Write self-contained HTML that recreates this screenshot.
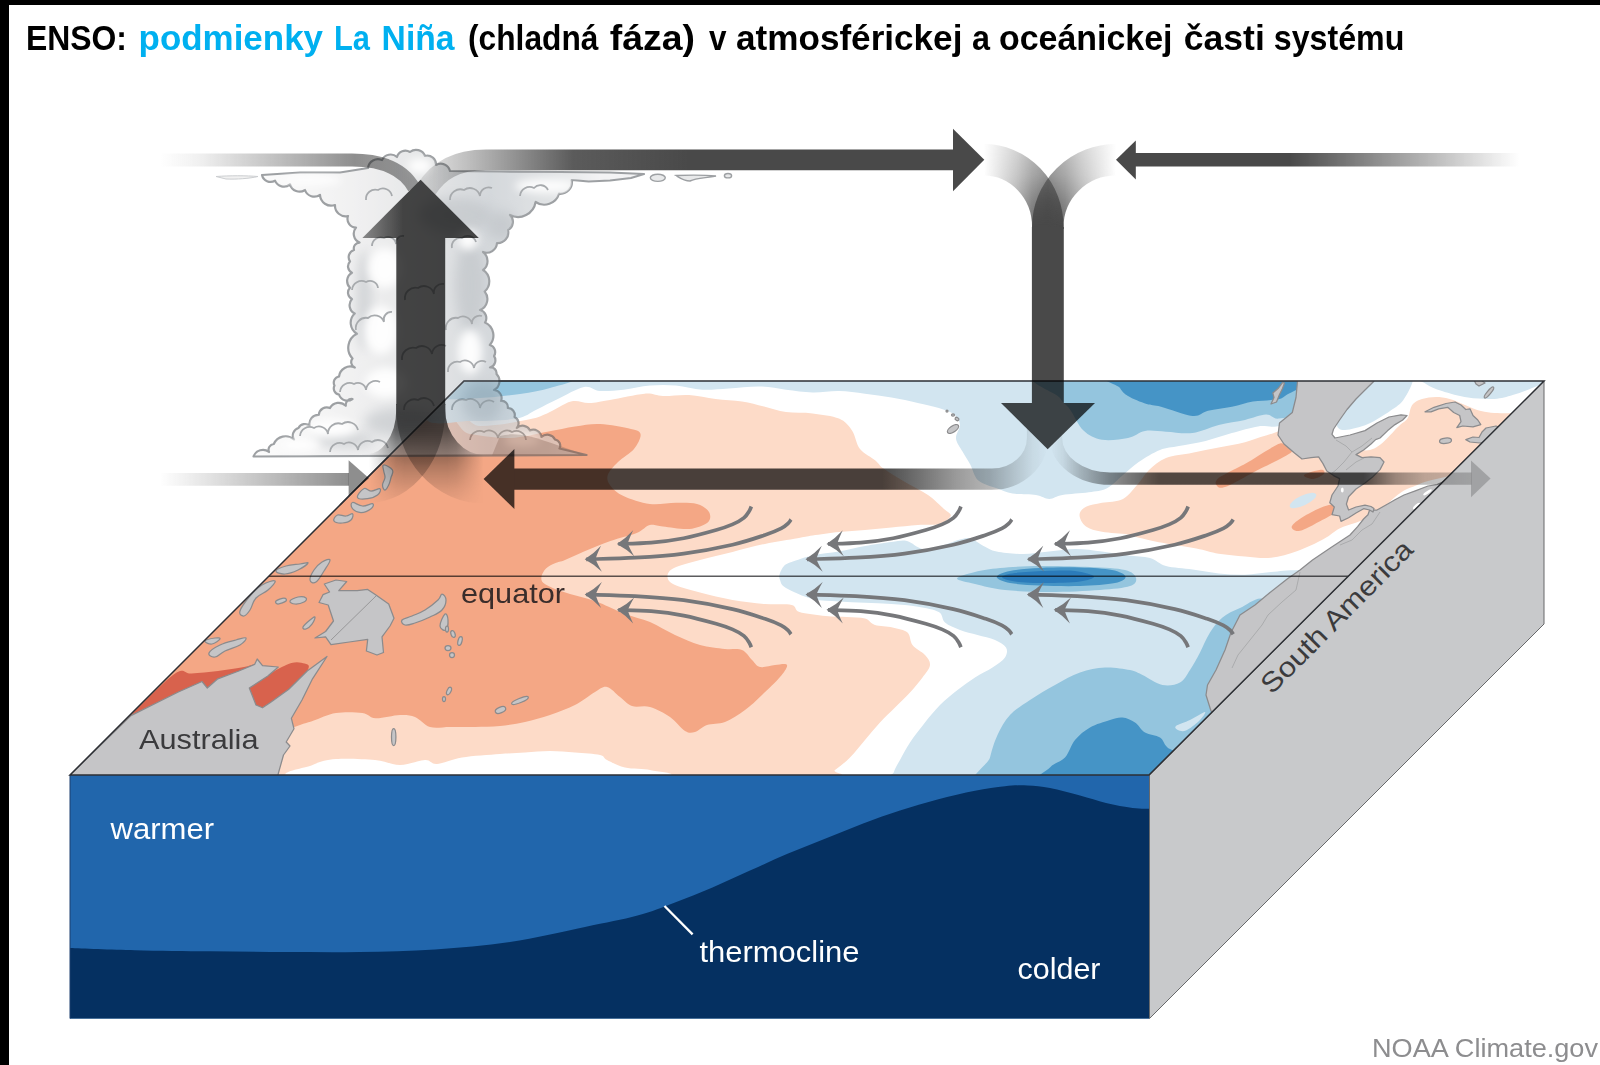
<!DOCTYPE html>
<html lang="sk"><head><meta charset="utf-8"><title>ENSO: podmienky La Niña</title>
<style>
html,body{margin:0;padding:0;background:#fff;}
body{width:1600px;height:1065px;position:relative;overflow:hidden;font-family:"Liberation Sans",sans-serif;}
.bl{position:absolute;left:0;top:0;width:9px;height:1065px;background:#000;}
.bt{position:absolute;left:0;top:0;width:1600px;height:5px;background:#000;}
</style></head><body>
<svg width="1600" height="1065" viewBox="0 0 1600 1065" style="position:absolute;left:0;top:0">
<defs>
<clipPath id="topclip"><path d="M70 775L1149 775L1544 381L464 381Z"/></clipPath>
<filter id="blur6" x="-50%" y="-50%" width="200%" height="200%"><feGaussianBlur stdDeviation="6"/></filter>
<filter id="blur4" x="-50%" y="-50%" width="200%" height="200%"><feGaussianBlur stdDeviation="4"/></filter>
</defs>
<path d="M70 775L1149.5 775L1149.5 1018.5L70 1018.5Z" fill="#2166ac" />
<path d="M70 948C80.8 948.4 111.7 949.7 135 950.2C158.3 950.8 185 951 210 951.3C235 951.6 260 951.9 285 952C310 952.1 335 952.4 360 952C385 951.6 410 951.1 435 949.4C460 947.7 485 945.7 510 942C535 938.3 563.8 931.4 585 927C606.2 922.6 622.5 919.7 637.5 915.6C652.5 911.5 662.5 907.2 675 902.5C687.5 897.8 700 892.8 712.5 887.5C725 882.2 737.5 876.2 750 870.6C762.5 865 775 859 787.5 853.7C800 848.4 812.5 843.7 825 838.7C837.5 833.7 850 828.4 862.5 823.7C875 819 887.5 814.7 900 810.6C912.5 806.5 925 802.7 937.5 799.4C950 796.1 963.8 792.9 975 790.7C986.2 788.5 996.2 787.1 1005 786.2C1013.8 785.3 1020 785.2 1027.5 785.5C1035 785.8 1041.2 786.3 1050 788C1058.8 789.7 1070.7 793.1 1080 795.6C1089.3 798.1 1097.2 800.9 1106 803C1114.8 805.1 1125.2 807 1132.5 808C1139.8 809 1146.7 808.6 1149.5 808.7L1149.5 1018.5 L70 1018.5 Z" fill="#053061" />
<path d="M1149.5 775L1544 381L1544 624L1149.5 1018.5Z" fill="#c8c9cb" stroke="#68696b" stroke-width="1"/>
<g clip-path="url(#topclip)">
<path d="M70 775L1149 775L1544 381L464 381Z" fill="#ffffff" />
<path d="M70 775C61.7 742.7 190.7 655.2 250 596C309.3 536.8 387.7 448.3 426 420C464.3 391.7 463.3 426 480 426C496.7 426 514.8 422.1 526 420C537.2 417.9 539.5 416.5 547 413.4C554.5 410.3 564 403.2 571 401.5C578 399.8 582.5 403.2 589 403C595.5 402.8 600.7 401.6 610 400C619.3 398.4 635.8 394.4 644.6 393.7C653.4 393 655.6 395.8 663 396C670.4 396.2 680.2 394.5 689 395C697.8 395.5 706.8 397.9 715.6 399C724.4 400.1 733.9 400.2 742 401.5C750.1 402.8 756.7 404.8 764 406.5C771.3 408.2 777.9 410.9 786 412C794.1 413.1 803.8 412.3 812.6 413.4C821.4 414.5 832.4 415.8 839 418.6C845.6 421.5 848.5 425.4 852 430.5C855.5 435.6 856 444 860 449C864 454 871.8 457.4 875.7 460.7C879.6 464 878.7 465.1 883.6 468.6C888.5 472.2 897.6 477.6 905 482C912.4 486.4 921.5 490.5 928 495C934.5 499.5 940.2 505.5 944 509C947.8 512.5 951.6 513.5 950.7 516C949.8 518.5 944.3 522.5 938.8 524C933.3 525.5 925.7 524.4 917.8 525C909.9 525.6 900.3 526.7 891.5 527.5C882.7 528.3 873.8 529.2 865 530C856.2 530.8 847.7 531.1 839 532C830.3 532.9 819.5 534.5 812.6 535.5C805.7 536.5 805.4 536.8 797.5 538.2C789.6 539.6 775.8 541.6 765 543.9C754.2 546.2 743.3 549.3 732.5 552C721.7 554.7 709.8 557.3 700 560C690.2 562.7 679.4 565.3 674 568C668.6 570.7 667.5 573.6 667.5 576.4C667.5 579.1 668.6 581.8 674 584.5C679.4 587.2 690.2 590 700 592.6C709.8 595.2 721.7 598.1 732.5 600C743.3 601.9 755.1 603.2 765 604C774.9 604.8 785.9 603.7 791.6 605C797.3 606.3 793.7 610.2 799.4 612C805.1 613.8 817.8 615.2 825.7 616C833.6 616.8 840.2 616.6 846.8 617C853.3 617.4 860.3 617.2 865 618.5C869.7 619.8 870.4 623.5 875 625C879.6 626.5 887.1 626.2 892.5 627.5C897.9 628.8 904.2 629.6 907.5 632.5C910.8 635.4 909.6 641.2 912.5 645C915.4 648.8 922.1 651.7 925 655C927.9 658.3 930.4 661.2 930 665C929.6 668.8 925.8 672.9 922.5 677.5C919.2 682.1 914.6 687.5 910 692.5C905.4 697.5 900 702.5 895 707.5C890 712.5 885 717.1 880 722.5C875 727.9 870 734.2 865 740C860 745.8 855 752.5 850 757.5C845 762.5 839.7 766.6 835 770C830.3 773.4 861.2 774.7 822 778C782.8 781.3 687 788 600 790C513 792 388.3 792.5 300 790C211.7 787.5 78.3 807.3 70 775Z" fill="#fddbc8" />
<path d="M1079.5 515C1079.5 511.7 1082.2 508.7 1086 506.7C1089.8 504.7 1095.8 504.1 1102 502.8C1108.2 501.5 1116.9 502.2 1123 498.9C1129.1 495.6 1134.4 487.8 1138.7 483C1143 478.2 1144.5 474.2 1149 470C1153.5 465.8 1158.8 460.9 1166 458C1173.2 455.1 1183.7 454.5 1192.5 452.7C1201.3 450.9 1210 449.1 1218.7 447.4C1227.5 445.6 1237.1 444.2 1245 442.2C1252.9 440.2 1258.5 437.6 1266 435.6C1273.5 433.6 1279.3 429.3 1290 430C1300.7 430.7 1316.7 436.7 1330 440C1343.3 443.3 1358.3 452.5 1370 450C1381.7 447.5 1393.7 430.3 1400 425C1406.3 419.7 1405.6 421.5 1407.8 418C1410 414.5 1409.5 407.4 1413 404C1416.5 400.6 1422.7 398.5 1428.8 397.6C1434.9 396.8 1441 396.7 1449.7 398.9C1458.4 401.1 1471.4 408.6 1481 411C1490.6 413.4 1497.7 413.1 1507.5 413.3C1517.3 413.5 1534.6 404.2 1540 412C1545.4 419.8 1553.3 449.7 1540 460C1526.7 470.3 1475.8 471.2 1460 474C1444.2 476.8 1450.3 475.8 1445 477C1439.7 478.2 1432.8 479.6 1428 481C1423.2 482.4 1420 483.8 1416 485.4C1412 487 1408 488.2 1404 490.6C1400 493 1395.5 496.8 1392 499.7C1388.5 502.6 1386.1 505.3 1383 508C1379.9 510.7 1378.3 513.5 1373.6 516C1368.9 518.5 1360.7 520.9 1355 523C1349.3 525.1 1344.7 525.8 1339.5 528.5C1334.3 531.2 1330.7 535.2 1323.7 539C1316.7 542.8 1306.3 547.9 1297.5 551C1288.7 554.1 1279.8 556.8 1271 557.7C1262.2 558.6 1253.7 557.1 1245 556.4C1236.3 555.7 1226.8 555 1218.7 553.7C1210.6 552.4 1205.2 550.2 1196.4 548.5C1187.6 546.8 1175.4 545.2 1166 543.5C1156.6 541.8 1146.3 539.5 1140 538C1133.7 536.5 1134.3 535.4 1128 534.4C1121.7 533.4 1109 533 1102 531.7C1095 530.4 1089.8 529.3 1086 526.5C1082.2 523.7 1079.5 518.3 1079.5 515Z" fill="#fddbc8" />
<path d="M70 775C78.3 747.5 191.7 653.3 250 595C308.3 536.7 383.3 451.8 420 425C456.7 398.2 455 431.8 470 434C485 436.2 497.1 438.4 510 438C522.9 437.6 536.5 433.7 547.3 431.8C558.1 429.9 566.2 427.8 575 426.5C583.8 425.2 590.7 423.6 600 424C609.3 424.4 624.2 427.3 631 429C637.8 430.7 640.1 431.1 640.6 434.4C641.1 437.7 637.8 444.4 634 449C630.2 453.6 622.4 457.7 618 462C613.6 466.3 609.1 471.1 607.8 475C606.5 478.9 607.8 482.2 610.4 485.7C613 489.2 616.9 492.9 623.5 496C630.1 499.1 641 502.9 649.8 504C658.5 505.1 668.1 502.8 676 502.8C683.9 502.8 691.5 502.5 697 504C702.5 505.5 707.2 508.9 709 512C710.8 515.1 711 519.7 707.7 522.5C704.4 525.3 696.8 528.3 689.3 529C681.8 529.7 669.6 527.2 663 526.5C656.4 525.8 654.2 523.9 649.8 525C645.4 526.1 643.3 530.3 636.7 533C630.1 535.7 619.2 537.9 610.4 541C601.6 544.1 591.6 548.3 584 551.5C576.4 554.7 569.8 558 565 560C560.2 562 558.2 561.8 555 563.2C551.8 564.6 548.2 566.3 546 568.5C543.8 570.7 541.9 574.1 541.5 576.5C541.1 578.9 541.2 580.9 543.5 583C545.8 585.1 550.6 587.2 555 589C559.4 590.8 565 592.5 570 594C575 595.5 580 596.5 585 598C590 599.5 593.3 600.3 600 603C606.7 605.7 616.7 610.8 625 614C633.3 617.2 641.7 618.5 650 622C658.3 625.5 666.7 631.2 675 635C683.3 638.8 691.7 642.7 700 645C708.3 647.3 718 648.2 725 649C732 649.8 737.5 648.2 742 650C746.5 651.8 749 657.2 752 660C755 662.8 756.2 666.2 760 667C763.8 667.8 770.5 665.3 775 665C779.5 664.7 786.2 663 787 665C787.8 667 784.2 672 780 677C775.8 682 767.8 689.5 762 695C756.2 700.5 751.2 705.5 745 710C738.8 714.5 731.3 719.5 725 722C718.7 724.5 712 723.3 707 725C702 726.7 698.7 731 695 732C691.3 733 689.2 733.5 685 731C680.8 728.5 675.8 721 670 717C664.2 713 656.3 708.8 650 707C643.7 705.2 637 707.7 632 706C627 704.3 624.2 700.2 620 697C615.8 693.8 611.2 687.8 607 687C602.8 686.2 600.3 689 595 692C589.7 695 582.5 701.2 575 705C567.5 708.8 558.3 712.2 550 715C541.7 717.8 533.3 720.2 525 722C516.7 723.8 508.3 725.2 500 726C491.7 726.8 483.3 726.8 475 727C466.7 727.2 457.5 727 450 727C442.5 727 435.8 728.7 430 727C424.2 725.3 420 719 415 717C410 715 406.6 714.8 400 715C393.4 715.2 381.9 718.6 375.6 718.3C369.3 718 369 713.9 362.4 713C355.8 712.1 344.3 711.7 336 713C327.7 714.3 319.7 718.6 312.5 721C305.3 723.4 311.4 721 292.7 727.5C273.9 734 237.1 752.1 200 760C162.9 767.9 61.7 802.5 70 775Z" fill="#f4a785" />
<path d="M1215.6 483C1215.7 481.8 1216.4 479.3 1220 477C1223.6 474.7 1239.6 466.9 1246.6 463C1253.6 459.1 1274.8 444.8 1280 443.5C1285.2 442.2 1294.4 448.8 1291.6 452C1288.8 455.2 1263.4 467 1256 471C1248.6 475 1232.3 484.1 1228 486C1223.7 487.9 1220.4 487.9 1219 487.5C1217.6 487.1 1215.5 484.2 1215.6 483Z" fill="#f4a785" />
<path d="M1304 475C1305.3 473.5 1317.7 470 1321 469.8C1324.3 469.6 1325.3 472.2 1324 473.7C1322.7 475.2 1316.3 478.8 1313 479C1309.7 479.2 1302.7 476.5 1304 475Z" fill="#f4a785" />
<path d="M1292 526C1293.3 523.8 1297.5 520.2 1302.8 517C1308.1 513.8 1318.2 508.5 1323.7 506.5C1329.2 504.5 1333.8 503.9 1335.5 505C1337.2 506.1 1336.8 510.2 1334 513C1331.2 515.8 1323.7 519.2 1318.5 522C1313.3 524.8 1306.7 528.6 1302.8 530C1298.9 531.4 1296.8 531.2 1295 530.5C1293.2 529.8 1290.7 528.2 1292 526Z" fill="#f4a785" />
<path d="M120 728C123.8 721.3 161.1 684.1 173 675C184.9 665.9 184 674.2 191.5 673.5C199 672.8 209.2 672.1 218 671C226.8 669.9 237.3 668.2 244 667C250.7 665.8 257 663.2 258 664C259 664.8 253.7 669.5 250 672C246.3 674.5 242.7 676.7 236 679C229.3 681.3 219.3 682.5 210 686C200.7 689.5 190 695.2 180 700C170 704.8 160 710.3 150 715C140 719.7 116.2 734.7 120 728Z" fill="#d8624d" />
<path d="M249.3 688C251.7 682.3 263.4 677.7 270.4 673.5C277.4 669.3 285.7 664.6 291.4 663C297.1 661.4 301.8 662.7 304.6 663.6C307.5 664.5 309.8 664.9 308.5 668.3C307.2 671.7 303.1 678.3 296.7 684C290.3 689.7 277.2 698.5 270.4 702.5C263.6 706.5 259.5 710.2 256 707.8C252.5 705.4 246.9 693.7 249.3 688Z" fill="#d8624d" />
<path d="M297 778C265.8 773.8 306 768.2 312.5 765C319 761.8 325.6 759.8 336 759C346.4 758.2 364.3 759 375 760C385.7 761 391.7 765 400 765C408.3 765 418.8 760.2 425 760C431.2 759.8 430.8 764.4 437 764C443.2 763.6 451.5 759.2 462 757.5C472.5 755.8 489.5 754.8 500 754C510.5 753.2 516.7 753 525 752.5C533.3 752 541.7 751 550 751C558.3 751 566.7 751.8 575 752.5C583.3 753.2 594.7 753.8 600 755C605.3 756.2 602.8 757.9 607 760C611.2 762.1 617.8 765.8 625 767.5C632.2 769.2 643.8 768.4 650 770C656.2 771.6 687 773.7 662 777C637 780.3 560.8 789.8 500 790C439.2 790.2 328.2 782.2 297 778Z" fill="#ffffff" />
<path d="M440 370C292.7 378.2 421 410.5 426 419C431 427.5 455.1 421.1 470 421C484.9 420.9 504.6 420.5 515.7 418.6C526.8 416.7 529.8 412.7 536.8 409.4C543.8 406.1 549.9 402.7 557.8 399C565.7 395.3 577 388.3 584 387C591 385.7 593.4 390.6 600 391C606.6 391.4 615.2 390.6 623.5 389.7C631.8 388.8 641.2 386.2 650 385.5C658.8 384.8 667.3 384.8 676 385.5C684.7 386.2 693.6 389.2 702.4 389.7C711.2 390.2 719.1 388.9 728.7 388.4C738.3 387.9 750.5 386.3 760 386.5C769.5 386.7 777.2 388.7 786 389.7C794.8 390.7 803.8 392.2 812.6 392.4C821.4 392.6 830.3 390.8 839 391C847.7 391.2 856.2 392.6 865 393.7C873.8 394.8 882.7 396.1 891.5 397.6C900.3 399.1 909.9 401.2 917.8 402.9C925.7 404.6 932.7 406 938.8 408C944.9 410 951.1 411.9 954.6 414.7C958.1 417.5 959.7 421.1 959.9 425C960.1 428.9 955.6 434 956 438.4C956.4 442.8 960.1 447.1 962.5 451.5C964.9 455.9 967.8 459.9 970.4 464.7C973 469.5 973.9 476.6 978.3 480.5C982.7 484.4 991 486.1 996.7 488.3C1002.4 490.5 1006 492.5 1012.5 493.6C1019 494.7 1029.9 494.1 1036 495C1042.1 495.9 1044.9 498.9 1049.3 498.9C1053.7 498.9 1055.8 496.1 1062.4 495C1069 493.9 1081.3 493.4 1088.7 492.3C1096.1 491.2 1101.3 491.2 1107 488.3C1112.7 485.4 1117.7 479.4 1123 475C1128.3 470.6 1132.5 466.2 1138.7 462C1144.9 457.8 1153.3 452.7 1160 450C1166.7 447.3 1171.4 447.5 1179 446C1186.6 444.5 1196.8 443.1 1205.6 440.9C1214.4 438.7 1223.2 435.4 1231.9 433C1240.6 430.6 1250.6 427.5 1258 426.4C1265.4 425.3 1269.5 427.5 1276.5 426.4C1283.5 425.3 1294.4 429.4 1300 420C1305.6 410.6 1453.3 378.3 1310 370C1166.7 361.7 587.3 361.8 440 370Z" fill="#d2e5f0" />
<path d="M1382 376C1373.3 379.2 1366.2 389 1360 395C1353.8 401 1348.8 407 1345 412C1341.2 417 1337 422 1337 425C1337 428 1339.8 430.2 1345 430C1350.2 429.8 1360.5 427.2 1368 424C1375.5 420.8 1384 415.2 1390 411C1396 406.8 1400.3 404.8 1404 399C1407.7 393.2 1415.7 379.8 1412 376C1408.3 372.2 1390.7 372.8 1382 376Z" fill="#d2e5f0" />
<path d="M1418 372C1397.3 374.3 1422 380.8 1426 384C1430 387.2 1435 388.7 1442 391C1449 393.3 1459.3 396.3 1468 397.6C1476.7 398.9 1487 399.3 1494.4 398.9C1501.9 398.5 1506.6 396.8 1512.7 395C1518.8 393.2 1524.8 390.9 1531 388.4C1537.2 385.9 1546.8 383.1 1550 380C1553.2 376.9 1572 371.3 1550 370C1528 368.7 1438.7 369.7 1418 372Z" fill="#d2e5f0" />
<ellipse cx="1303" cy="500.5" rx="14.5" ry="5" transform="rotate(-25 1303 500.5)" fill="#d2e5f0"/>
<path d="M779.7 574C780.4 571.7 782 568 784 566C786 564 786.8 563.8 791.6 562C796.4 560.2 804.7 557.1 812.6 555.4C820.5 553.6 830.3 553.1 839 551.5C847.7 549.9 856.2 547.6 865 546C873.8 544.4 884.5 542.8 891.5 542C898.5 541.2 901.8 539.8 907 541C912.2 542.2 916.8 548.3 923 549C929.2 549.7 937.8 546.6 944 545C950.2 543.4 955.6 540.7 960 539.6C964.4 538.5 966.5 537.2 970.4 538.3C974.3 539.4 979.1 543.8 983.5 546C987.9 548.2 990.1 550.2 996.7 551.5C1003.3 552.8 1014.3 554 1023 554C1031.7 554 1040.2 552.3 1049 551.5C1057.8 550.7 1066.8 549 1075.6 549C1084.4 549 1093.3 550.4 1102 551.5C1110.7 552.6 1120 554.3 1128 555.4C1136 556.5 1143.7 556.2 1150 558C1156.3 559.8 1158.9 564.1 1166 566C1173.1 567.9 1183.7 568.3 1192.5 569.5C1201.3 570.7 1210 572.5 1218.7 573.4C1227.5 574.3 1236.3 574.9 1245 574.7C1253.7 574.5 1261.8 572.8 1271 572C1280.2 571.2 1285.2 570.3 1300 570C1314.8 569.7 1368.3 548.3 1360 570C1351.7 591.7 1283.3 663.3 1250 700C1216.7 736.7 1220 775 1160 790C1100 805 934.4 792.9 890 790C845.6 787.1 892 777.5 893.7 772.5C895.4 767.5 897.3 765 900 760C902.7 755 905.8 748.8 910 742.5C914.2 736.2 920 728.8 925 722.5C930 716.2 934.6 710.4 940 705C945.4 699.6 951.7 694.6 957.5 690C963.3 685.4 969.2 681.2 975 677.5C980.8 673.8 987.5 670.8 992.5 667.5C997.5 664.2 1002.8 660.8 1005 657.5C1007.2 654.2 1007.7 650.4 1006 647.5C1004.3 644.6 999.8 642.1 995 640C990.2 637.9 983.3 636.7 977.5 635C971.7 633.3 965.4 632.1 960 630C954.6 627.9 948.5 625.5 945 622.5C941.5 619.5 943.3 614.6 938.8 612C934.3 609.4 925.7 608 917.8 606.7C909.9 605.4 900.3 604.7 891.5 604C882.7 603.3 873.8 603.1 865 602.7C856.2 602.3 847.7 602 839 601.4C830.3 600.8 821.4 601.2 812.6 599C803.8 596.8 791.4 591.2 786 588C780.6 584.8 781 582.3 780 580C779 577.7 779 576.3 779.7 574Z" fill="#d2e5f0" />
<path d="M455 372C433.7 375.2 435.8 392.7 440 397C444.2 401.3 466.7 398.5 480 398C493.3 397.5 508.3 395.7 520 394C531.7 392.3 542 390.7 550 388C558 385.3 583.8 380.7 568 378C552.2 375.3 476.3 368.8 455 372Z" fill="#94c5de" />
<path d="M1048 372C1006.3 376.3 1056.3 391.8 1060 398C1063.7 404.2 1066.1 404 1070 409.4C1073.9 414.8 1078.2 425.4 1083.5 430.5C1088.8 435.6 1094.6 438.4 1102 439.7C1109.4 440.9 1120.8 439.4 1128 438C1135.2 436.6 1138.7 432.1 1145 431C1151.3 429.9 1158.1 431.4 1166 431.7C1173.9 432 1183.7 434.1 1192.5 433C1201.3 431.9 1210 427.2 1218.7 425C1227.5 422.8 1237.1 421.6 1245 419.9C1252.9 418.2 1260.3 414.8 1266 414.6C1271.7 414.4 1273.3 419.4 1279 418.6C1284.7 417.8 1294.8 417.8 1300 410C1305.2 402.2 1352 378.3 1310 372C1268 365.7 1089.7 367.7 1048 372Z" fill="#94c5de" />
<path d="M957 578.5C957 576.5 967.8 573.8 975 572C982.2 570.2 989.2 569 1000 568C1010.8 567 1025 566.2 1040 566C1055 565.8 1075.8 566.3 1090 567C1104.2 567.7 1117.3 568.2 1125 570C1132.7 571.8 1135.2 575.3 1136 578C1136.8 580.7 1136 584 1130 586C1124 588 1113.3 589 1100 590C1086.7 591 1065.8 592 1050 592C1034.2 592 1017.5 591.3 1005 590C992.5 588.7 983 585.9 975 584C967 582.1 957 580.5 957 578.5Z" fill="#94c5de" />
<path d="M983 790C954.7 784.6 987.6 766.7 990 757.5C992.4 748.3 994.2 742.1 997.5 735C1000.8 727.9 1004.6 720.8 1010 715C1015.4 709.2 1022.5 705 1030 700C1037.5 695 1046.7 689.6 1055 685C1063.3 680.4 1071.7 675.4 1080 672.5C1088.3 669.6 1096.7 667.9 1105 667.5C1113.3 667.1 1123.8 668.8 1130 670C1136.2 671.2 1137.1 672.5 1142.5 675C1147.9 677.5 1156.2 683.8 1162.5 685C1168.8 686.2 1175.4 685 1180 682.5C1184.6 680 1186.7 675 1190 670C1193.3 665 1196.7 658.8 1200 652.5C1203.3 646.2 1206.2 638.3 1210 632.5C1213.8 626.7 1217.5 621.6 1222.5 617.5C1227.5 613.4 1232.9 610.9 1240 608C1247.1 605.1 1258.3 594.7 1265 600C1271.7 605.3 1284.2 623.3 1280 640C1275.8 656.7 1260 675 1240 700C1220 725 1202.8 775 1160 790C1117.2 805 1011.3 795.4 983 790Z" fill="#94c5de" />
<path d="M1176 726C1178 724.3 1185.2 722.3 1190 720C1194.8 717.7 1203.5 711.8 1205 712C1206.5 712.2 1202.2 717.9 1199 721C1195.8 724.1 1189.5 729 1186 730.5C1182.5 732 1179.7 730.8 1178 730C1176.3 729.2 1174 727.7 1176 726Z" fill="#d2e5f0" />
<path d="M1113 372C1082.2 374.7 1117.5 384 1120 388C1122.5 392 1123.6 393.3 1128 396C1132.4 398.7 1141.1 402.2 1146.6 404C1152.1 405.8 1153.3 404.7 1161 406.7C1168.7 408.7 1184.7 415.2 1192.5 415.9C1200.3 416.6 1201.4 412.2 1208 410.7C1214.6 409.2 1224.4 408.2 1231.9 406.7C1239.4 405.2 1246.4 402.6 1252.9 401.5C1259.4 400.4 1265.7 400.9 1271 400C1276.3 399.1 1279.3 400.7 1285 396C1290.7 391.3 1333.7 376 1305 372C1276.3 368 1143.8 369.3 1113 372Z" fill="#4594c6" />
<path d="M996.7 577C996.7 575 1002.8 572.5 1010 571C1017.2 569.5 1028.3 568.6 1040 568C1051.7 567.4 1068 567.2 1080 567.5C1092 567.8 1104.4 568.5 1112 570C1119.6 571.5 1125 574.3 1125.5 576.5C1126 578.7 1122.6 581.4 1115 583C1107.4 584.6 1092.5 585.6 1080 586C1067.5 586.4 1051.7 586 1040 585.5C1028.3 585 1017.2 584.4 1010 583C1002.8 581.6 996.7 579 996.7 577Z" fill="#4594c6" />
<path d="M1035 790C1016.7 786.2 1045 772.9 1050 767.5C1055 762.1 1060.8 762.1 1065 757.5C1069.2 752.9 1070.8 745 1075 740C1079.2 735 1084.2 730.8 1090 727.5C1095.8 724.2 1104.6 721.7 1110 720C1115.4 718.3 1118.3 717.1 1122.5 717.5C1126.7 717.9 1131.2 720 1135 722.5C1138.8 725 1140.8 730 1145 732.5C1149.2 735 1156.2 735 1160 737.5C1163.8 740 1163.3 743.8 1167.5 747.5C1171.7 751.2 1186.2 752.9 1185 760C1183.8 767.1 1185 785 1160 790C1135 795 1053.3 793.8 1035 790Z" fill="#4594c6" />
<path d="M1002 577C1002 575.6 1007.8 574 1015 573C1022.2 572 1035 571.3 1045 571C1055 570.7 1066.8 570.1 1075 571C1083.2 571.9 1093.2 574.8 1094 576.5C1094.8 578.2 1088.2 580.4 1080 581.5C1071.8 582.6 1055.8 583 1045 583C1034.2 583 1022.2 582.5 1015 581.5C1007.8 580.5 1002 578.4 1002 577Z" fill="#2b7bba" />
<path d="M60 785L70 775L131 715.6L157.3 702.5L178.3 692L202 681.5L207.3 688L217.8 678.8L238.8 671L254.6 664.4L257.2 659L262.5 665.7L278.3 667L267.8 676L249.3 688L256 705L262.5 707.8L270.4 702.5L288.8 689.3L307.2 671L327 656.5L312.5 678.8L302 700L291.4 718.3L294 728.8L286.2 742L290 746L283.5 755L278.3 773.5L276 785Z" fill="#c5c5c7" stroke="#8b8b8d" stroke-width="1.25" stroke-linejoin="round"/>
<path d="M324.3 584L336 580L346.7 581.5L338.8 590.7L357.2 590.7L367.7 589.4L375.6 594.7L388.7 604L394 618.3L390 626L382 636.8L383.5 652.5L377 655L366.4 651L367.7 639.4L349.3 642L331 644.6L325.6 636.8L315 638L325.6 631.5L333.5 621L328.2 605L319 602.5L323 594.7L329.6 592Z" fill="#c5c5c7" stroke="#8b8b8d" stroke-width="1.25" stroke-linejoin="round"/>
<path d="M331 640L376 596" stroke="#8b8b8d" stroke-width="0.8" fill="none"/>
<path d="M383.7 465C385.5 464.8 391 467.5 392.5 470C394 472.5 391.8 474.5 391 477.5C390.2 480.5 389.9 482.5 388.7 485C387.5 487.5 386.2 490 385 490C383.8 490 382.5 487.5 382.5 485C382.5 482.5 384.8 480.3 385 477.5C385.2 474.7 384 473.5 383.7 471C383.4 468.5 381.9 465.2 383.7 465Z" fill="#c5c5c7" stroke="#8b8b8d" stroke-width="1.25" stroke-linejoin="round"/>
<path d="M363.7 488.7C366.4 487.4 367.7 491 371 491C374.3 491 378.7 487.9 380 488.7C381.3 489.5 380 493 377.5 495C375 497 371.5 498.2 367.5 498.7C363.5 499.2 358.3 499.5 357.5 497.5C356.7 495.5 361 490 363.7 488.7Z" fill="#c5c5c7" stroke="#8b8b8d" stroke-width="1.25" stroke-linejoin="round"/>
<path d="M352.5 502.5C354.5 502 358.5 505.8 362.5 506C366.5 506.2 370.8 503.2 372.5 503.7C374.2 504.2 373.3 506.9 371 508.7C368.7 510.5 364.7 512.5 361 512.5C357.3 512.5 354.2 510.7 352.5 508.7C350.8 506.7 350.5 503 352.5 502.5Z" fill="#c5c5c7" stroke="#8b8b8d" stroke-width="1.25" stroke-linejoin="round"/>
<path d="M337.5 515C339.9 514 343 516.3 346 516C349 515.7 351.5 512.9 352.5 513.7C353.5 514.5 353 518.1 351 520C349 521.9 345.9 522.8 342.5 523C339.1 523.2 335 522.6 334 521C333 519.4 335.1 516 337.5 515Z" fill="#c5c5c7" stroke="#8b8b8d" stroke-width="1.25" stroke-linejoin="round"/>
<path d="M276 571C276.2 569.4 281.2 567.4 286 566C290.8 564.6 295.6 564.6 300 564C304.4 563.4 308.4 561.8 308 563C307.6 564.2 302.6 567.8 298 570C293.4 572.2 289.4 573.8 285 574C280.6 574.2 275.8 572.6 276 571Z" fill="#c5c5c7" stroke="#8b8b8d" stroke-width="1.25" stroke-linejoin="round"/>
<path d="M310 580C309.6 577.6 311.6 573.6 314 570C316.4 566.4 318.8 564 322 562C325.2 560 329.6 558.2 330 560C330.4 561.8 326.8 566.6 324 571C321.2 575.4 318.8 580.2 316 582C313.2 583.8 310.4 582.4 310 580Z" fill="#c5c5c7" stroke="#8b8b8d" stroke-width="1.25" stroke-linejoin="round"/>
<path d="M240 611C241.2 607 245.6 601.2 250 596C254.4 590.8 257 588 262 585C267 582 273.8 580 275 581C276.2 582 271.8 586.6 268 590C264.2 593.4 259.6 594 256 598C252.4 602 252.4 606.4 250 610C247.6 613.6 246 615.8 244 616C242 616.2 238.8 615 240 611Z" fill="#c5c5c7" stroke="#8b8b8d" stroke-width="1.25" stroke-linejoin="round"/>
<path d="M276 601C277.2 599.8 282 598 284 598C286 598 287.2 599.8 286 601C284.8 602.2 280 604 278 604C276 604 274.8 602.2 276 601Z" fill="#c5c5c7" stroke="#8b8b8d" stroke-width="1.25" stroke-linejoin="round"/>
<path d="M290 601C290.6 599.6 294.8 597.6 298 597C301.2 596.4 304.8 597 306 598C307.2 599 306.2 600.8 304 602C301.8 603.2 297.8 604.2 295 604C292.2 603.8 289.4 602.4 290 601Z" fill="#c5c5c7" stroke="#8b8b8d" stroke-width="1.25" stroke-linejoin="round"/>
<path d="M303 627C303.8 625.2 307.6 622 310 620C312.4 618 314.6 616.2 315 617C315.4 617.8 313.8 621.6 312 624C310.2 626.4 307.8 628.4 306 629C304.2 629.6 302.2 628.8 303 627Z" fill="#c5c5c7" stroke="#8b8b8d" stroke-width="1.25" stroke-linejoin="round"/>
<path d="M205 641C205.6 639.8 212 638.4 215 638C218 637.6 220.6 637.8 220 639C219.4 640.2 215 643.6 212 644C209 644.4 204.4 642.2 205 641Z" fill="#c5c5c7" stroke="#8b8b8d" stroke-width="1.25" stroke-linejoin="round"/>
<path d="M209 653C210 650.6 214.6 647.6 220 645C225.4 642.4 230.8 641.4 236 640C241.2 638.6 245.2 637 246 638C246.8 639 244.2 642.4 240 645C235.8 647.6 230 648.6 225 651C220 653.4 218.2 656.6 215 657C211.8 657.4 208 655.4 209 653Z" fill="#c5c5c7" stroke="#8b8b8d" stroke-width="1.25" stroke-linejoin="round"/>
<path d="M402 620C403.4 618.2 407.4 618 412 616C416.6 614 419.8 613.2 425 610C430.2 606.8 434.6 603.2 438 600C441.4 596.8 440.4 594 442 594C443.6 594 446 596.8 446 600C446 603.2 445.2 606.6 442 610C438.8 613.4 435.4 614.4 430 617C424.6 619.6 420 621.4 415 623C410 624.6 407.6 625.6 405 625C402.4 624.4 400.6 621.8 402 620Z" fill="#c5c5c7" stroke="#8b8b8d" stroke-width="1.25" stroke-linejoin="round"/>
<path d="M440 626C439.8 622.8 443.4 615.2 445 614C446.6 612.8 447.8 616.8 448 620C448.2 623.2 447.6 628.8 446 630C444.4 631.2 440.2 629.2 440 626Z" fill="#c5c5c7" stroke="#8b8b8d" stroke-width="1.25" stroke-linejoin="round"/>
<ellipse cx="447" cy="629" rx="1.5" ry="3" transform="rotate(0 447 629)" fill="#c5c5c7" stroke="#8b8b8d" stroke-width="1.25" stroke-linejoin="round"/>
<ellipse cx="453" cy="634" rx="2" ry="3.5" transform="rotate(-20 453 634)" fill="#c5c5c7" stroke="#8b8b8d" stroke-width="1.25" stroke-linejoin="round"/>
<ellipse cx="460" cy="641" rx="2" ry="4.5" transform="rotate(15 460 641)" fill="#c5c5c7" stroke="#8b8b8d" stroke-width="1.25" stroke-linejoin="round"/>
<ellipse cx="448" cy="648" rx="3" ry="2.5" transform="rotate(0 448 648)" fill="#c5c5c7" stroke="#8b8b8d" stroke-width="1.25" stroke-linejoin="round"/>
<ellipse cx="452" cy="655" rx="2.5" ry="2.5" transform="rotate(0 452 655)" fill="#c5c5c7" stroke="#8b8b8d" stroke-width="1.25" stroke-linejoin="round"/>
<ellipse cx="449" cy="691" rx="2" ry="4" transform="rotate(25 449 691)" fill="#c5c5c7" stroke="#8b8b8d" stroke-width="1.25" stroke-linejoin="round"/>
<ellipse cx="444" cy="699" rx="1.5" ry="2.5" transform="rotate(0 444 699)" fill="#c5c5c7" stroke="#8b8b8d" stroke-width="1.25" stroke-linejoin="round"/>
<ellipse cx="393.7" cy="737" rx="2.2" ry="8.5" transform="rotate(0 393.7 737)" fill="#c5c5c7" stroke="#8b8b8d" stroke-width="1.25" stroke-linejoin="round"/>
<ellipse cx="500.5" cy="710" rx="5.5" ry="2.8" transform="rotate(-22 500.5 710)" fill="#c5c5c7" stroke="#8b8b8d" stroke-width="1.25" stroke-linejoin="round"/>
<ellipse cx="520" cy="700.5" rx="9" ry="2.2" transform="rotate(-22 520 700.5)" fill="#c5c5c7" stroke="#8b8b8d" stroke-width="1.25" stroke-linejoin="round"/>
<ellipse cx="947" cy="411" rx="1" ry="1" transform="rotate(0 947 411)" fill="#c5c5c7" stroke="#8b8b8d" stroke-width="1.25" stroke-linejoin="round"/>
<ellipse cx="953" cy="415" rx="1.5" ry="1.2" transform="rotate(0 953 415)" fill="#c5c5c7" stroke="#8b8b8d" stroke-width="1.25" stroke-linejoin="round"/>
<ellipse cx="957" cy="419" rx="2" ry="1.5" transform="rotate(30 957 419)" fill="#c5c5c7" stroke="#8b8b8d" stroke-width="1.25" stroke-linejoin="round"/>
<ellipse cx="953" cy="429" rx="6.5" ry="3" transform="rotate(-35 953 429)" fill="#c5c5c7" stroke="#8b8b8d" stroke-width="1.25" stroke-linejoin="round"/>
<path d="M1369.6 510L1377 510L1387.7 504L1395 499.7L1404 495L1416 490.6L1428 486L1437 484.6L1470 470L1250 730L1211 711L1206 695L1207.5 685L1216 670L1225 650L1231 632.5L1240 615L1255 605L1270 592.5L1287.5 578.7L1300 570L1312.5 560L1331 547.5L1350 535L1357.6 526.7L1363.6 519L1368 514.7Z" fill="#c5c5c7" stroke="#8b8b8d" stroke-width="1.25" stroke-linejoin="round"/>
<path d="M1298.3 372L1296 397.5L1292.3 412.5L1279.5 423L1278 435L1284 444L1294.5 453L1302 459L1311 457.6L1318.6 456.8L1323 463.6L1326.8 471L1333.6 475.6L1339.6 478.6L1338 486L1332 495L1329.8 502.7L1334.3 507L1332 514.7L1339.6 516L1341 521.4L1348.6 517.7L1356 513L1363.6 508.7L1369.6 510L1373 512L1374 508.5L1371 506.5L1365 505.2L1356 507L1348.6 510L1346.4 504L1348.6 496.7L1356 489L1365 483L1372.6 477L1380 469.6L1384 462L1380 457.6L1371 456.9L1362 457.6L1356 454.6L1363.6 450L1371 444L1375.6 439.6L1380 438L1387.7 430.6L1395 424.6L1402.7 420L1407 415.5L1401 414.8L1389 417L1377 423L1365 430.6L1350 435L1335 438L1332 434.3L1333.6 429L1339.6 420L1347 409.5L1356 399L1365 390L1373.4 381.8L1380 372Z" fill="#c5c5c7" stroke="#8b8b8d" stroke-width="1.25" stroke-linejoin="round"/>
<path d="M1336 440L1346 446L1352 452L1344 462L1336 470L1331 474M1352 452L1362 446L1372 438M1346 470L1356 462L1364 458M1300 572L1296 590L1282 602L1268 615L1262 625L1250 640L1238 655L1232 668M1340 545L1352 540L1362 530L1372 524L1380 512" stroke="#a3a4a6" stroke-width="0.8" fill="none"/>
<ellipse cx="1342.3" cy="490" rx="1.4" ry="2.6" fill="#fff"/><ellipse cx="1427.5" cy="492.3" rx="5" ry="1.4" transform="rotate(-33 1427.5 492.3)" fill="#fff"/><ellipse cx="1416.5" cy="506" rx="4.5" ry="1.6" transform="rotate(-42 1416.5 506)" fill="#fff"/>
<path d="M1282.5 382.5L1278 388.5L1272.8 393L1274 397.5L1271 404L1276.5 402L1279.5 394.5L1282.5 388.5L1284.5 383Z" fill="#c5c5c7" stroke="#8b8b8d" stroke-width="1.25" stroke-linejoin="round"/>
<path d="M1425 411.8L1434 407.3L1446 403.5L1455 402L1461 405L1465.8 409.5L1470 408.8L1473 415.5L1477.8 420L1480.8 424.6L1473 426.8L1462.8 426L1456.8 427.6L1461 421.6L1459.7 415.5L1453.7 412.5L1447.7 407.3L1438.7 408.8L1431 411.8Z" fill="#c5c5c7" stroke="#8b8b8d" stroke-width="1.25" stroke-linejoin="round"/>
<ellipse cx="1445.5" cy="440.8" rx="6" ry="2.7" transform="rotate(-6 1445.5 440.8)" fill="#c5c5c7" stroke="#8b8b8d" stroke-width="1.25" stroke-linejoin="round"/>
<path d="M1465.8 439.6L1473 437L1479 437.5L1482 432L1486 428L1496 426L1502 428L1490 440L1480 443L1470 442Z" fill="#c5c5c7" stroke="#8b8b8d" stroke-width="1.25" stroke-linejoin="round"/>
<path d="M1474 380L1481 380L1485 383L1479 386L1476 384Z" fill="#c5c5c7" stroke="#8b8b8d" stroke-width="1.25" stroke-linejoin="round"/>
<ellipse cx="1489" cy="392.5" rx="7" ry="1.8" transform="rotate(-50 1489 392.5)" fill="#c5c5c7" stroke="#8b8b8d" stroke-width="1.25" stroke-linejoin="round"/>
<path d="M268 576.2H1350" stroke="#5c5c5e" stroke-width="1.5" fill="none" style="mix-blend-mode:multiply"/>
<path d="M586.2 559.3C594.3 559 618.8 558.7 635 557.7C651.2 556.8 667.5 555.8 683.7 553.6C700 551.4 719 547.8 732.5 544.7C746 541.6 756.9 537.7 765 535C773.1 532.3 777.3 530.4 781.2 528.4C785.1 526.4 786.7 524.7 788.3 523.2C789.9 521.7 790.5 520.1 791 519.5" stroke="#76777a" stroke-width="3.7" fill="none" stroke-linecap="butt"/>
<path transform="translate(586.2 559.3) rotate(-1.9)" d="M-1.5 0Q8 -5.5 15.3 -13Q11 -5 9.4 0Q11 5 15.3 13Q8 5.5 -1.5 0Z" fill="#76777a"/>
<path d="M618.4 543.9C623.9 543.7 640.3 543.5 651.2 542.6C662.1 541.7 672.9 540.3 683.7 538.2C694.5 536.1 708.1 532.3 716.2 530C724.3 527.7 727.9 526.4 732.5 524.4C737.1 522.4 741.1 520.2 743.9 517.9C746.7 515.6 748.2 512.7 749.4 510.8C750.6 508.9 751 507.2 751.3 506.5" stroke="#76777a" stroke-width="3.7" fill="none" stroke-linecap="butt"/>
<path transform="translate(618.4 543.9) rotate(-2.3)" d="M-1.5 0Q8 -5.5 15.3 -13Q11 -5 9.4 0Q11 5 15.3 13Q8 5.5 -1.5 0Z" fill="#76777a"/>
<path d="M586.2 594.5C594.3 594.8 618.8 595.1 635 596.1C651.2 597 667.5 598 683.7 600.2C700 602.4 719 606 732.5 609.1C746 612.2 756.9 616.1 765 618.8C773.1 621.5 777.3 623.4 781.2 625.4C785.1 627.4 786.7 629.1 788.3 630.6C789.9 632.1 790.5 633.7 791 634.3" stroke="#76777a" stroke-width="3.7" fill="none" stroke-linecap="butt"/>
<path transform="translate(586.2 594.5) rotate(1.9)" d="M-1.5 0Q8 -5.5 15.3 -13Q11 -5 9.4 0Q11 5 15.3 13Q8 5.5 -1.5 0Z" fill="#76777a"/>
<path d="M618.4 609.9C623.9 610.1 640.3 610.2 651.2 611.2C662.1 612.1 672.9 613.5 683.7 615.6C694.5 617.7 708.1 621.5 716.2 623.8C724.3 626.1 727.9 627.4 732.5 629.4C737.1 631.4 741.1 633.6 743.9 635.9C746.7 638.2 748.2 641.1 749.4 643C750.6 644.9 751 646.6 751.3 647.3" stroke="#76777a" stroke-width="3.7" fill="none" stroke-linecap="butt"/>
<path transform="translate(618.4 609.9) rotate(2.3)" d="M-1.5 0Q8 -5.5 15.3 -13Q11 -5 9.4 0Q11 5 15.3 13Q8 5.5 -1.5 0Z" fill="#76777a"/>
<path d="M807 559.3C815.1 559 839.5 558.7 855.8 557.7C872 556.8 888.2 555.8 904.5 553.6C920.8 551.4 939.8 547.8 953.3 544.7C966.8 541.6 977.7 537.7 985.8 535C993.9 532.3 998.1 530.4 1002 528.4C1005.9 526.4 1007.5 524.7 1009.1 523.2C1010.7 521.7 1011.3 520.1 1011.8 519.5" stroke="#76777a" stroke-width="3.7" fill="none" stroke-linecap="butt"/>
<path transform="translate(807 559.3) rotate(-1.9)" d="M-1.5 0Q8 -5.5 15.3 -13Q11 -5 9.4 0Q11 5 15.3 13Q8 5.5 -1.5 0Z" fill="#76777a"/>
<path d="M828 543.9C833.5 543.7 849.9 543.5 860.8 542.6C871.7 541.7 882.5 540.3 893.3 538.2C904.1 536.1 917.7 532.3 925.8 530C933.9 527.7 937.5 526.4 942.1 524.4C946.7 522.4 950.7 520.2 953.5 517.9C956.3 515.6 957.8 512.7 959 510.8C960.2 508.9 960.6 507.2 960.9 506.5" stroke="#76777a" stroke-width="3.7" fill="none" stroke-linecap="butt"/>
<path transform="translate(828 543.9) rotate(-2.3)" d="M-1.5 0Q8 -5.5 15.3 -13Q11 -5 9.4 0Q11 5 15.3 13Q8 5.5 -1.5 0Z" fill="#76777a"/>
<path d="M807 594.5C815.1 594.8 839.5 595.1 855.8 596.1C872 597 888.2 598 904.5 600.2C920.8 602.4 939.8 606 953.3 609.1C966.8 612.2 977.7 616.1 985.8 618.8C993.9 621.5 998.1 623.4 1002 625.4C1005.9 627.4 1007.5 629.1 1009.1 630.6C1010.7 632.1 1011.3 633.7 1011.8 634.3" stroke="#76777a" stroke-width="3.7" fill="none" stroke-linecap="butt"/>
<path transform="translate(807 594.5) rotate(1.9)" d="M-1.5 0Q8 -5.5 15.3 -13Q11 -5 9.4 0Q11 5 15.3 13Q8 5.5 -1.5 0Z" fill="#76777a"/>
<path d="M828 609.9C833.5 610.1 849.9 610.2 860.8 611.2C871.7 612.1 882.5 613.5 893.3 615.6C904.1 617.7 917.7 621.5 925.8 623.8C933.9 626.1 937.5 627.4 942.1 629.4C946.7 631.4 950.7 633.6 953.5 635.9C956.3 638.2 957.8 641.1 959 643C960.2 644.9 960.6 646.6 960.9 647.3" stroke="#76777a" stroke-width="3.7" fill="none" stroke-linecap="butt"/>
<path transform="translate(828 609.9) rotate(2.3)" d="M-1.5 0Q8 -5.5 15.3 -13Q11 -5 9.4 0Q11 5 15.3 13Q8 5.5 -1.5 0Z" fill="#76777a"/>
<path d="M1028.4 559.3C1036.5 559 1061 558.7 1077.2 557.7C1093.5 556.8 1109.7 555.8 1125.9 553.6C1142.2 551.4 1161.2 547.8 1174.7 544.7C1188.2 541.6 1199.1 537.7 1207.2 535C1215.3 532.3 1219.5 530.4 1223.4 528.4C1227.3 526.4 1228.9 524.7 1230.5 523.2C1232.1 521.7 1232.8 520.1 1233.2 519.5" stroke="#76777a" stroke-width="3.7" fill="none" stroke-linecap="butt"/>
<path transform="translate(1028.4 559.3) rotate(-1.9)" d="M-1.5 0Q8 -5.5 15.3 -13Q11 -5 9.4 0Q11 5 15.3 13Q8 5.5 -1.5 0Z" fill="#76777a"/>
<path d="M1055.2 543.9C1060.7 543.7 1077.1 543.5 1088 542.6C1098.9 541.7 1109.7 540.3 1120.5 538.2C1131.3 536.1 1144.9 532.3 1153 530C1161.1 527.7 1164.7 526.4 1169.3 524.4C1173.9 522.4 1177.9 520.2 1180.7 517.9C1183.5 515.6 1185 512.7 1186.2 510.8C1187.4 508.9 1187.8 507.2 1188.1 506.5" stroke="#76777a" stroke-width="3.7" fill="none" stroke-linecap="butt"/>
<path transform="translate(1055.2 543.9) rotate(-2.3)" d="M-1.5 0Q8 -5.5 15.3 -13Q11 -5 9.4 0Q11 5 15.3 13Q8 5.5 -1.5 0Z" fill="#76777a"/>
<path d="M1028.4 594.5C1036.5 594.8 1061 595.1 1077.2 596.1C1093.5 597 1109.7 598 1125.9 600.2C1142.2 602.4 1161.2 606 1174.7 609.1C1188.2 612.2 1199.1 616.1 1207.2 618.8C1215.3 621.5 1219.5 623.4 1223.4 625.4C1227.3 627.4 1228.9 629.1 1230.5 630.6C1232.1 632.1 1232.8 633.7 1233.2 634.3" stroke="#76777a" stroke-width="3.7" fill="none" stroke-linecap="butt"/>
<path transform="translate(1028.4 594.5) rotate(1.9)" d="M-1.5 0Q8 -5.5 15.3 -13Q11 -5 9.4 0Q11 5 15.3 13Q8 5.5 -1.5 0Z" fill="#76777a"/>
<path d="M1055.2 609.9C1060.7 610.1 1077.1 610.2 1088 611.2C1098.9 612.1 1109.7 613.5 1120.5 615.6C1131.3 617.7 1144.9 621.5 1153 623.8C1161.1 626.1 1164.7 627.4 1169.3 629.4C1173.9 631.4 1177.9 633.6 1180.7 635.9C1183.5 638.2 1185 641.1 1186.2 643C1187.4 644.9 1187.8 646.6 1188.1 647.3" stroke="#76777a" stroke-width="3.7" fill="none" stroke-linecap="butt"/>
<path transform="translate(1055.2 609.9) rotate(2.3)" d="M-1.5 0Q8 -5.5 15.3 -13Q11 -5 9.4 0Q11 5 15.3 13Q8 5.5 -1.5 0Z" fill="#76777a"/>
</g>
<path d="M70 775V1018.5" stroke="#1c3f6e" stroke-width="1" fill="none"/>
<path d="M70 775L1149 775L1544 381L464 381Z" fill="none" stroke="#2c2f34" stroke-width="1.5" stroke-linejoin="miter"/>
<defs><linearGradient id="cg" gradientUnits="userSpaceOnUse" x1="260" y1="0" x2="600" y2="0"><stop offset="0" stop-color="#fafafa"/><stop offset="0.3" stop-color="#e6e6e7"/><stop offset="0.5" stop-color="#d3d5d7"/><stop offset="0.68" stop-color="#b9bfc5"/><stop offset="0.85" stop-color="#cdd1d4"/><stop offset="1" stop-color="#ececee"/></linearGradient></defs>
<clipPath id="cclip2"><path d="M262 175L300 172.5L340 172.5L368 168A10 10 0 0 1 382 160A9.5 9.5 0 0 1 397 157A8.6 8.6 0 0 1 410 152A9.6 9.6 0 0 1 425 156A8.8 8.8 0 0 1 436 165A9.4 9.4 0 0 1 450 171L500 171.5L560 172L610 172.5L644 174L631 178L610 180.5L588.7 181.5L571.7 180A11.6 11.6 0 0 1 559 193.7A15.4 15.4 0 0 1 535.6 202A17.8 17.8 0 0 1 510 215A9.4 9.4 0 0 1 508 230A10.6 10.6 0 0 1 497 243A10.3 10.3 0 0 1 483 252A11.2 11.2 0 0 1 483 270A13.4 13.4 0 0 1 484.6 291.5A11.8 11.8 0 0 1 480 310A8.3 8.3 0 0 1 485 322.5A14.3 14.3 0 0 1 489.8 345A7.3 7.3 0 0 1 494 356A7.5 7.5 0 0 1 490 367.5A5.7 5.7 0 0 1 496.5 374A10 10 0 0 1 494 390A8.1 8.1 0 0 1 501 401A6.1 6.1 0 0 1 507.8 408A7 7 0 0 1 514.5 417A7 7 0 0 1 516.8 428A8.3 8.3 0 0 1 530 430.5A8.2 8.2 0 0 1 541.5 437A8.5 8.5 0 0 1 555 439.5A6.2 6.2 0 0 1 559.5 448.5L586.5 455L253.5 456.5A10 10 0 0 1 269 452A5.8 5.8 0 0 1 273.8 444A12.8 12.8 0 0 1 294 439.5A7.7 7.7 0 0 1 298.5 428A7.1 7.1 0 0 1 309.8 426A8.9 8.9 0 0 1 318.8 414.8A8.1 8.1 0 0 1 330 408A9.9 9.9 0 0 1 345.8 405.8A5.9 5.9 0 0 1 352.5 399A8.8 8.8 0 0 1 339 394.5A6.2 6.2 0 0 1 334.5 385.5A6.2 6.2 0 0 1 339 376.5A11.3 11.3 0 0 1 354.8 367.5A5.8 5.8 0 0 1 352.5 358.5A15.6 15.6 0 0 1 357 333.8A12.7 12.7 0 0 1 354.8 313.5A9.2 9.2 0 0 1 352 299A7.1 7.1 0 0 1 350 287.7A9.4 9.4 0 0 1 352 272.7A7.1 7.1 0 0 1 350 261.4A7.5 7.5 0 0 1 354 250A5.8 5.8 0 0 1 359.6 242.6A9.6 9.6 0 0 1 356 227.6A8.7 8.7 0 0 1 348 216A10.6 10.6 0 0 1 335 205A11.2 11.2 0 0 1 320 194.8A9.8 9.8 0 0 1 305 190A9.9 9.9 0 0 1 290 184.4A9.6 9.6 0 0 1 275 180.7A8.8 8.8 0 0 1 262 175Z"/></clipPath>
<g opacity="0.6">
<path d="M262 175L300 172.5L340 172.5L368 168A10 10 0 0 1 382 160A9.5 9.5 0 0 1 397 157A8.6 8.6 0 0 1 410 152A9.6 9.6 0 0 1 425 156A8.8 8.8 0 0 1 436 165A9.4 9.4 0 0 1 450 171L500 171.5L560 172L610 172.5L644 174L631 178L610 180.5L588.7 181.5L571.7 180A11.6 11.6 0 0 1 559 193.7A15.4 15.4 0 0 1 535.6 202A17.8 17.8 0 0 1 510 215A9.4 9.4 0 0 1 508 230A10.6 10.6 0 0 1 497 243A10.3 10.3 0 0 1 483 252A11.2 11.2 0 0 1 483 270A13.4 13.4 0 0 1 484.6 291.5A11.8 11.8 0 0 1 480 310A8.3 8.3 0 0 1 485 322.5A14.3 14.3 0 0 1 489.8 345A7.3 7.3 0 0 1 494 356A7.5 7.5 0 0 1 490 367.5A5.7 5.7 0 0 1 496.5 374A10 10 0 0 1 494 390A8.1 8.1 0 0 1 501 401A6.1 6.1 0 0 1 507.8 408A7 7 0 0 1 514.5 417A7 7 0 0 1 516.8 428A8.3 8.3 0 0 1 530 430.5A8.2 8.2 0 0 1 541.5 437A8.5 8.5 0 0 1 555 439.5A6.2 6.2 0 0 1 559.5 448.5L586.5 455L253.5 456.5A10 10 0 0 1 269 452A5.8 5.8 0 0 1 273.8 444A12.8 12.8 0 0 1 294 439.5A7.7 7.7 0 0 1 298.5 428A7.1 7.1 0 0 1 309.8 426A8.9 8.9 0 0 1 318.8 414.8A8.1 8.1 0 0 1 330 408A9.9 9.9 0 0 1 345.8 405.8A5.9 5.9 0 0 1 352.5 399A8.8 8.8 0 0 1 339 394.5A6.2 6.2 0 0 1 334.5 385.5A6.2 6.2 0 0 1 339 376.5A11.3 11.3 0 0 1 354.8 367.5A5.8 5.8 0 0 1 352.5 358.5A15.6 15.6 0 0 1 357 333.8A12.7 12.7 0 0 1 354.8 313.5A9.2 9.2 0 0 1 352 299A7.1 7.1 0 0 1 350 287.7A9.4 9.4 0 0 1 352 272.7A7.1 7.1 0 0 1 350 261.4A7.5 7.5 0 0 1 354 250A5.8 5.8 0 0 1 359.6 242.6A9.6 9.6 0 0 1 356 227.6A8.7 8.7 0 0 1 348 216A10.6 10.6 0 0 1 335 205A11.2 11.2 0 0 1 320 194.8A9.8 9.8 0 0 1 305 190A9.9 9.9 0 0 1 290 184.4A9.6 9.6 0 0 1 275 180.7A8.8 8.8 0 0 1 262 175Z" fill="url(#cg)" stroke="#5d6267" stroke-width="2.2" stroke-linejoin="round"/>
<g clip-path="url(#cclip2)">
<ellipse cx="470" cy="285" rx="15" ry="45" fill="#8f969d" opacity="0.55" filter="url(#blur6)"/>
<ellipse cx="455" cy="215" rx="36" ry="18" fill="#8f969d" opacity="0.55" filter="url(#blur6)"/>
<ellipse cx="364" cy="300" rx="8" ry="50" fill="#8f969d" opacity="0.55" filter="url(#blur6)"/>
<ellipse cx="400" cy="422" rx="36" ry="14" fill="#8f969d" opacity="0.55" filter="url(#blur6)"/>
<ellipse cx="482" cy="402" rx="20" ry="20" fill="#8f969d" opacity="0.55" filter="url(#blur6)"/>
<ellipse cx="502" cy="226" rx="15" ry="15" fill="#8f969d" opacity="0.55" filter="url(#blur6)"/>
<ellipse cx="345" cy="440" rx="30" ry="8" fill="#8f969d" opacity="0.55" filter="url(#blur6)"/>
<ellipse cx="385" cy="268" rx="17" ry="20" fill="#ffffff" opacity="0.95" filter="url(#blur4)"/>
<ellipse cx="381" cy="330" rx="17" ry="24" fill="#ffffff" opacity="0.95" filter="url(#blur4)"/>
<ellipse cx="386" cy="383" rx="21" ry="15" fill="#ffffff" opacity="0.95" filter="url(#blur4)"/>
<ellipse cx="470" cy="352" rx="12" ry="22" fill="#ffffff" opacity="0.95" filter="url(#blur4)"/>
<ellipse cx="332" cy="428" rx="24" ry="9" fill="#ffffff" opacity="0.95" filter="url(#blur4)"/>
<ellipse cx="300" cy="445" rx="20" ry="6" fill="#ffffff" opacity="0.95" filter="url(#blur4)"/>
<ellipse cx="420" cy="166" rx="12" ry="8" fill="#ffffff" opacity="0.95" filter="url(#blur4)"/>
<ellipse cx="522" cy="440" rx="18" ry="7" fill="#ffffff" opacity="0.95" filter="url(#blur4)"/>
<ellipse cx="545" cy="186" rx="30" ry="7" fill="#ffffff" opacity="0.95" filter="url(#blur4)"/>
<ellipse cx="312" cy="180" rx="30" ry="5" fill="#ffffff" opacity="0.95" filter="url(#blur4)"/>
<ellipse cx="468" cy="240" rx="10" ry="10" fill="#ffffff" opacity="0.95" filter="url(#blur4)"/>
</g>
<path d="M500 436C515 432 530 436 545 441C560 446 575 451 587 455.5H492Z" fill="#4f4a48" opacity="0.4"/>
<path d="M356 330A10.2 10.2 0 0 1 368 318A9.9 9.9 0 0 1 384 322A7.7 7.7 0 0 1 392 312" fill="none" stroke="#6e7378" stroke-width="1.8"/>
<path d="M352 290A9.7 9.7 0 0 1 366 282A8 8 0 0 1 378 288" fill="none" stroke="#6e7378" stroke-width="1.8"/>
<path d="M372 246A8.7 8.7 0 0 1 384 238A8 8 0 0 1 396 244A6.8 6.8 0 0 1 404 236" fill="none" stroke="#6e7378" stroke-width="1.8"/>
<path d="M452 248A8.5 8.5 0 0 1 462 238A8.7 8.7 0 0 1 476 242" fill="none" stroke="#6e7378" stroke-width="1.8"/>
<path d="M450 200A10.3 10.3 0 0 1 464 190A10.3 10.3 0 0 1 480 196A8.7 8.7 0 0 1 492 188" fill="none" stroke="#6e7378" stroke-width="1.8"/>
<path d="M366 200A9.4 9.4 0 0 1 378 190A9.1 9.1 0 0 1 392 196" fill="none" stroke="#6e7378" stroke-width="1.8"/>
<path d="M446 330A10.2 10.2 0 0 1 458 318A9.1 9.1 0 0 1 472 324A7.7 7.7 0 0 1 482 316" fill="none" stroke="#6e7378" stroke-width="1.8"/>
<path d="M448 372A9.4 9.4 0 0 1 460 362A9.1 9.1 0 0 1 474 368A8 8 0 0 1 486 362" fill="none" stroke="#6e7378" stroke-width="1.8"/>
<path d="M340 392A9.7 9.7 0 0 1 354 384A8 8 0 0 1 366 390A9.7 9.7 0 0 1 380 382" fill="none" stroke="#6e7378" stroke-width="1.8"/>
<path d="M300 436A9.7 9.7 0 0 1 314 428A9.1 9.1 0 0 1 328 434A10.3 10.3 0 0 1 342 424A10.3 10.3 0 0 1 358 430" fill="none" stroke="#6e7378" stroke-width="1.8"/>
<path d="M330 452A9.7 9.7 0 0 1 344 444A9.1 9.1 0 0 1 358 450A9.7 9.7 0 0 1 372 442A10.3 10.3 0 0 1 388 448" fill="none" stroke="#6e7378" stroke-width="1.8"/>
<path d="M452 410A10.3 10.3 0 0 1 466 400A9.7 9.7 0 0 1 480 408A9.1 9.1 0 0 1 494 402" fill="none" stroke="#6e7378" stroke-width="1.8"/>
<path d="M470 440A9.7 9.7 0 0 1 484 432A9.1 9.1 0 0 1 498 438A9.1 9.1 0 0 1 512 432A9.7 9.7 0 0 1 526 440" fill="none" stroke="#6e7378" stroke-width="1.8"/>
<path d="M520 196A9.7 9.7 0 0 1 534 188A8.5 8.5 0 0 1 548 190" fill="none" stroke="#6e7378" stroke-width="1.8"/>
<path d="M405 300A10.6 10.6 0 0 1 418 288A10.3 10.3 0 0 1 434 294A8.5 8.5 0 0 1 444 284" fill="none" stroke="#6e7378" stroke-width="1.8"/>
<path d="M402 360A11.1 11.1 0 0 1 416 348A10.3 10.3 0 0 1 432 354A9.7 9.7 0 0 1 446 346" fill="none" stroke="#6e7378" stroke-width="1.8"/>
<path d="M404 410A10.3 10.3 0 0 1 418 400A10.3 10.3 0 0 1 434 406" fill="none" stroke="#6e7378" stroke-width="1.8"/>
<ellipse cx="657.8" cy="177.8" rx="7.5" ry="3.6" fill="#d9dbdd" stroke="#5d6267" stroke-width="1.4"/>
<path d="M676 175.5C690 175 705 175 716 176C706 178 696 178 690 181C684 181 680 178 676 175.5Z" fill="#d9dbdd" stroke="#5d6267" stroke-width="1.4"/>
<ellipse cx="728" cy="175.7" rx="3.6" ry="2.2" fill="#d9dbdd" stroke="#5d6267" stroke-width="1.4"/>
<path d="M216 176.5C230 175.5 246 175.5 258 176.5C250 178.5 236 179.5 226 179Z" fill="#e8e8e8" stroke="#a9adb1" stroke-width="1"/>
</g>
<path d="M340 505L464 381H600" fill="none" stroke="#2c2f34" stroke-width="1.5" stroke-opacity="0.75"/>
<defs><linearGradient id="gTL" gradientUnits="userSpaceOnUse" x1="160" y1="0" x2="420" y2="0"><stop offset="0" stop-color="#494949" stop-opacity="0"/><stop offset="0.15" stop-color="#494949" stop-opacity="0.08"/><stop offset="0.75" stop-color="#494949" stop-opacity="0.62"/><stop offset="1" stop-color="#494949" stop-opacity="0.5"/></linearGradient><linearGradient id="gTR" gradientUnits="userSpaceOnUse" x1="425" y1="0" x2="953" y2="0"><stop offset="0" stop-color="#494949" stop-opacity="0.15"/><stop offset="0.08" stop-color="#494949" stop-opacity="0.35"/><stop offset="0.28" stop-color="#494949" stop-opacity="0.9"/><stop offset="0.5" stop-color="#494949" stop-opacity="1"/><stop offset="1" stop-color="#494949" stop-opacity="1"/></linearGradient><linearGradient id="gYL" gradientUnits="userSpaceOnUse" x1="984" y1="0" x2="1048" y2="0"><stop offset="0" stop-color="#494949" stop-opacity="0"/><stop offset="0.25" stop-color="#494949" stop-opacity="0.25"/><stop offset="0.5" stop-color="#494949" stop-opacity="0.5"/><stop offset="0.75" stop-color="#494949" stop-opacity="0.8"/><stop offset="1" stop-color="#494949" stop-opacity="1"/></linearGradient><linearGradient id="gYR" gradientUnits="userSpaceOnUse" x1="1116" y1="0" x2="1048" y2="0"><stop offset="0" stop-color="#494949" stop-opacity="0"/><stop offset="0.25" stop-color="#494949" stop-opacity="0.25"/><stop offset="0.5" stop-color="#494949" stop-opacity="0.5"/><stop offset="0.75" stop-color="#494949" stop-opacity="0.8"/><stop offset="1" stop-color="#494949" stop-opacity="1"/></linearGradient><linearGradient id="gTRR" gradientUnits="userSpaceOnUse" x1="1136" y1="0" x2="1519" y2="0"><stop offset="0" stop-color="#494949" stop-opacity="1"/><stop offset="0.4" stop-color="#494949" stop-opacity="1"/><stop offset="1" stop-color="#494949" stop-opacity="0"/></linearGradient><linearGradient id="gSL" gradientUnits="userSpaceOnUse" x1="1048" y1="0" x2="514" y2="0"><stop offset="0" stop-color="#494949" stop-opacity="0.0"/><stop offset="0.03" stop-color="#494949" stop-opacity="0.07"/><stop offset="0.07" stop-color="#494949" stop-opacity="0.24"/><stop offset="0.11" stop-color="#494949" stop-opacity="0.4"/><stop offset="0.17" stop-color="#494949" stop-opacity="0.55"/><stop offset="0.31" stop-color="#494949" stop-opacity="1"/><stop offset="1" stop-color="#494949" stop-opacity="1"/></linearGradient><linearGradient id="gSR" gradientUnits="userSpaceOnUse" x1="1050" y1="0" x2="1471" y2="0"><stop offset="0" stop-color="#494949" stop-opacity="0.0"/><stop offset="0.03" stop-color="#494949" stop-opacity="0.08"/><stop offset="0.07" stop-color="#494949" stop-opacity="0.3"/><stop offset="0.14" stop-color="#494949" stop-opacity="0.6"/><stop offset="0.26" stop-color="#494949" stop-opacity="0.95"/><stop offset="0.745" stop-color="#494949" stop-opacity="0.95"/><stop offset="0.82" stop-color="#494949" stop-opacity="0.55"/><stop offset="0.89" stop-color="#494949" stop-opacity="0.36"/><stop offset="1" stop-color="#494949" stop-opacity="0.28"/></linearGradient><linearGradient id="gBL" gradientUnits="userSpaceOnUse" x1="160" y1="0" x2="349" y2="0"><stop offset="0" stop-color="#494949" stop-opacity="0"/><stop offset="0.2" stop-color="#494949" stop-opacity="0.12"/><stop offset="1" stop-color="#494949" stop-opacity="0.62"/></linearGradient><linearGradient id="gUL" gradientUnits="userSpaceOnUse" x1="369" y1="0" x2="405" y2="0"><stop offset="0" stop-color="#494949" stop-opacity="0"/><stop offset="0.25" stop-color="#494949" stop-opacity="0.3"/><stop offset="0.53" stop-color="#494949" stop-opacity="0.65"/><stop offset="0.75" stop-color="#494949" stop-opacity="0.9"/><stop offset="1" stop-color="#494949" stop-opacity="1"/></linearGradient><linearGradient id="gUR" gradientUnits="userSpaceOnUse" x1="483.6" y1="0" x2="447" y2="0"><stop offset="0" stop-color="#494949" stop-opacity="0"/><stop offset="0.25" stop-color="#494949" stop-opacity="0.3"/><stop offset="0.53" stop-color="#494949" stop-opacity="0.65"/><stop offset="0.75" stop-color="#494949" stop-opacity="0.9"/><stop offset="1" stop-color="#494949" stop-opacity="1"/></linearGradient><linearGradient id="gHead" gradientUnits="userSpaceOnUse" x1="362" y1="0" x2="479" y2="0"><stop offset="0" stop-color="#494949" stop-opacity="0.6"/><stop offset="0.35" stop-color="#494949" stop-opacity="1"/><stop offset="1" stop-color="#494949" stop-opacity="1"/></linearGradient><linearGradient id="mYg" gradientUnits="userSpaceOnUse" x1="0" y1="140" x2="0" y2="228"><stop offset="0" stop-color="#fff" stop-opacity="0.42"/><stop offset="0.4" stop-color="#fff" stop-opacity="0.6"/><stop offset="0.7" stop-color="#fff" stop-opacity="0.82"/><stop offset="1" stop-color="#fff" stop-opacity="1"/></linearGradient><mask id="mY" maskUnits="userSpaceOnUse" x="960" y="130" width="180" height="110"><rect x="960" y="130" width="180" height="110" fill="url(#mYg)"/></mask><linearGradient id="mUg" gradientUnits="userSpaceOnUse" x1="0" y1="409" x2="0" y2="504"><stop offset="0" stop-color="#fff" stop-opacity="1"/><stop offset="0.22" stop-color="#fff" stop-opacity="0.85"/><stop offset="0.43" stop-color="#fff" stop-opacity="0.58"/><stop offset="0.66" stop-color="#fff" stop-opacity="0.32"/><stop offset="0.85" stop-color="#fff" stop-opacity="0.15"/><stop offset="1" stop-color="#fff" stop-opacity="0.05"/></linearGradient><mask id="mU" maskUnits="userSpaceOnUse" x="340" y="395" width="180" height="120"><rect x="340" y="395" width="180" height="120" fill="url(#mUg)"/></mask></defs>
<g style="mix-blend-mode:multiply">
<path d="M420.75 404V409A51.75 69.2 0 0 1 369 478.2" fill="none" stroke="url(#gUL)" stroke-width="48.9" mask="url(#mU)" />
<path d="M420.75 404V409A62.85 70 0 0 0 483.6 479" fill="none" stroke="url(#gUR)" stroke-width="48.9" mask="url(#mU)" />
<path d="M396.3 238H445.2V405H396.3Z" fill="#494949" />
<path d="M362.4 238L420.6 179.7L478.8 238Z" fill="url(#gHead)" />
<path d="M160 160H352C384 160 404 170 414 188" fill="none" stroke="url(#gTL)" stroke-width="13" />
<path d="M426 190C438 170 456 159.8 486 159.8H954" fill="none" stroke="url(#gTR)" stroke-width="20.8" />
<path d="M953 128.7L984.3 159.8L953 191.2Z" fill="#494949" />
<path d="M984 159.8A63.8 67 0 0 1 1047.8 226.8V229" fill="none" stroke="url(#gYL)" stroke-width="31.5" mask="url(#mY)" />
<path d="M1116 159.8A68.2 67 0 0 0 1047.8 226.8V229" fill="none" stroke="url(#gYR)" stroke-width="31.5" mask="url(#mY)" />
<path d="M1031.9 227H1063.8V404H1031.9Z" fill="#494949" />
<path d="M1001 403H1095L1047.7 449.2Z" fill="#494949" />
<path d="M1135.8 140.5L1116 159.8L1135.8 179.5Z" fill="#494949" />
<path d="M1135 159.8H1519" fill="none" stroke="url(#gTRR)" stroke-width="13.4" />
<path d="M1037.5 424V438A45.5 41.2 0 0 1 992 479.2H514" fill="none" stroke="url(#gSL)" stroke-width="21.2" />
<path d="M514.4 449L483.6 479L514.4 509Z" fill="#494949" />
<path d="M1056 424V438A54 40.6 0 0 0 1110 478.6H1471.5" fill="none" stroke="url(#gSR)" stroke-width="12.4" />
<path d="M1471 460.5L1490.6 478.6L1471 497.3Z" fill="#494949" fill-opacity="0.27" />
<path d="M160 479.4H349" fill="none" stroke="url(#gBL)" stroke-width="12.8" />
<path d="M348.6 460.2L369 478.2L348.6 496Z" fill="#494949" fill-opacity="0.62" />
</g>
<text x="110.5" y="838.7" font-size="29" fill="#ffffff" font-family="Liberation Sans, sans-serif" textLength="103.5" lengthAdjust="spacingAndGlyphs" >warmer</text>
<text x="699.5" y="961.7" font-size="29" fill="#ffffff" font-family="Liberation Sans, sans-serif" textLength="160" lengthAdjust="spacingAndGlyphs" >thermocline</text>
<text x="1017.5" y="979.4" font-size="29" fill="#ffffff" font-family="Liberation Sans, sans-serif" textLength="83" lengthAdjust="spacingAndGlyphs" >colder</text>
<text x="139" y="748.5" font-size="27.5" fill="#3b3b3d" font-family="Liberation Sans, sans-serif" textLength="119.5" lengthAdjust="spacingAndGlyphs" >Australia</text>
<text x="461" y="602.5" font-size="28.5" fill="#3a2d2b" font-family="Liberation Sans, sans-serif" textLength="104" lengthAdjust="spacingAndGlyphs" >equator</text>
<path d="M664.5 906L692.6 934.4" stroke="#ffffff" stroke-width="2.3" fill="none"/>
<g transform="translate(1271.8 695.3) rotate(-45.2)">
<text x="0" y="0" font-size="27.5" fill="#3b3b3d" font-family="Liberation Sans, sans-serif" textLength="203" lengthAdjust="spacingAndGlyphs" >South America</text>
</g>
<text x="1372" y="1057.4" font-size="26.5" fill="#8d8d8f" font-family="Liberation Sans, sans-serif" textLength="226" lengthAdjust="spacingAndGlyphs" >NOAA Climate.gov</text>
<text x="26" y="49.5" font-size="35.5" font-weight="bold" fill="#000000" font-family="Liberation Sans, sans-serif" textLength="101" lengthAdjust="spacingAndGlyphs">ENSO:</text>
<text x="138.6" y="49.5" font-size="35.5" font-weight="bold" fill="#00b0f0" font-family="Liberation Sans, sans-serif" textLength="184.4" lengthAdjust="spacingAndGlyphs">podmienky</text>
<text x="334" y="49.5" font-size="35.5" font-weight="bold" fill="#00b0f0" font-family="Liberation Sans, sans-serif" textLength="36" lengthAdjust="spacingAndGlyphs">La</text>
<text x="381.6" y="49.5" font-size="35.5" font-weight="bold" fill="#00b0f0" font-family="Liberation Sans, sans-serif" textLength="72.9" lengthAdjust="spacingAndGlyphs">Niña</text>
<text x="468" y="49.5" font-size="35.5" font-weight="bold" fill="#000000" font-family="Liberation Sans, sans-serif" textLength="130.5" lengthAdjust="spacingAndGlyphs">(chladná</text>
<text x="609.8" y="49.5" font-size="35.5" font-weight="bold" fill="#000000" font-family="Liberation Sans, sans-serif" textLength="85.2" lengthAdjust="spacingAndGlyphs">fáza)</text>
<text x="709" y="49.5" font-size="35.5" font-weight="bold" fill="#000000" font-family="Liberation Sans, sans-serif" textLength="17.5" lengthAdjust="spacingAndGlyphs">v</text>
<text x="736" y="49.5" font-size="35.5" font-weight="bold" fill="#000000" font-family="Liberation Sans, sans-serif" textLength="226.4" lengthAdjust="spacingAndGlyphs">atmosférickej</text>
<text x="972" y="49.5" font-size="35.5" font-weight="bold" fill="#000000" font-family="Liberation Sans, sans-serif" textLength="18" lengthAdjust="spacingAndGlyphs">a</text>
<text x="999" y="49.5" font-size="35.5" font-weight="bold" fill="#000000" font-family="Liberation Sans, sans-serif" textLength="173.5" lengthAdjust="spacingAndGlyphs">oceánickej</text>
<text x="1183.8" y="49.5" font-size="35.5" font-weight="bold" fill="#000000" font-family="Liberation Sans, sans-serif" textLength="81" lengthAdjust="spacingAndGlyphs">časti</text>
<text x="1273.8" y="49.5" font-size="35.5" font-weight="bold" fill="#000000" font-family="Liberation Sans, sans-serif" textLength="130.5" lengthAdjust="spacingAndGlyphs">systému</text>
</svg>
<div class="bl"></div><div class="bt"></div>
</body></html>
